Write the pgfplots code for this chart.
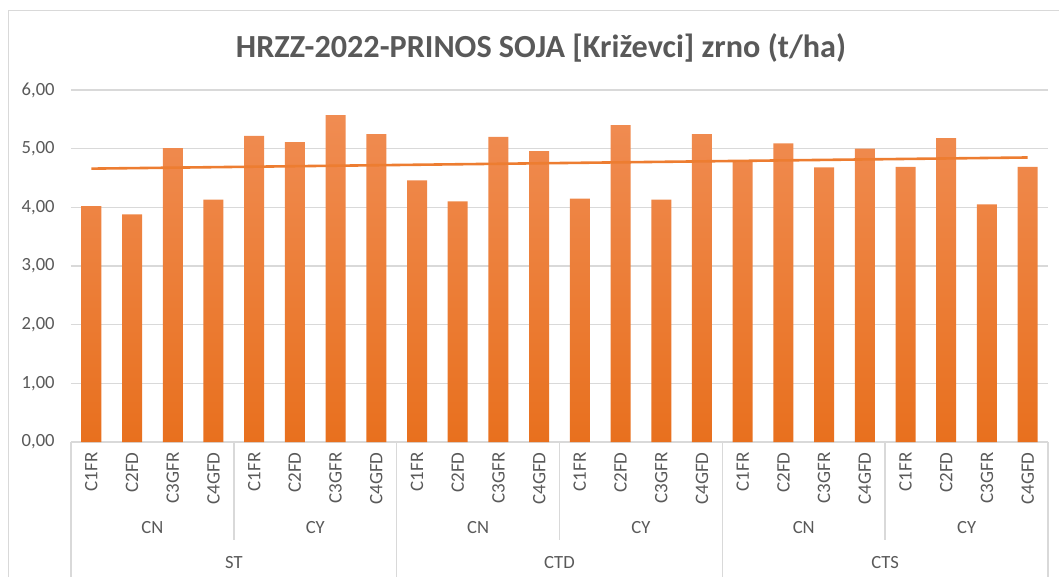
\documentclass[border=0pt]{standalone}
\usepackage{pgfplots}
\pgfplotsset{compat=1.18}
\usepackage{fontspec}
\setmainfont{Carlito}
\definecolor{txtgrey}{HTML}{595959}
\definecolor{gridgrey}{HTML}{D9D9D9}
\definecolor{bartop}{HTML}{F08C52}
\definecolor{barbot}{HTML}{E8701E}
\definecolor{trend}{HTML}{ED7D31}
\tikzset{catline/.style={gridgrey, line width=0.75pt},
  catlab/.style={font=\fontsize{9.3}{11}\selectfont, text=txtgrey}}
\begin{document}
\begin{tikzpicture}
\path[use as bounding box] (0,0) rectangle (529.5pt,-288.5pt);
\draw[gridgrey, line width=0.75pt] (4.25pt,-288.5pt) -- (4.25pt,-5.25pt) -- (529.5pt,-5.25pt);
\node[font=\fontsize{16.1}{19}\selectfont\bfseries, text=txtgrey, anchor=base] at (270.5pt,-29pt) {HRZZ-2022-PRINOS SOJA [Križevci] zrno (t/ha)};
\begin{axis}[
  at={(35.5pt,-221pt)}, anchor=south west,
  scale only axis, width=488.5pt, height=176pt,
  xmin=-0.5, xmax=23.5, ymin=0, ymax=6,
  ytick={0,1,...,6},
  xtick={0,...,23},
  xticklabels={C1FR,C2FD,C3GFR,C4GFD,C1FR,C2FD,C3GFR,C4GFD,C1FR,C2FD,C3GFR,C4GFD,C1FR,C2FD,C3GFR,C4GFD,C1FR,C2FD,C3GFR,C4GFD,C1FR,C2FD,C3GFR,C4GFD},
  axis x line*=bottom, axis y line*=left,
  y axis line style={draw=none},
  x axis line style={draw=gridgrey, line width=0.75pt},
  major tick length=0pt,
  ymajorgrids, major grid style={draw=gridgrey, line width=0.75pt},
  yticklabel style={font=\fontsize{9.3}{11}\selectfont, text=txtgrey, inner sep=0pt, xshift=-8pt},
  xticklabel style={font=\fontsize{9.5}{11}\selectfont, text=txtgrey, rotate=90, anchor=east, inner sep=5pt},
  /pgf/number format/.cd, fixed, fixed zerofill, precision=2, use comma, assume math mode=true,
  /pgfplots/.cd,
  clip=false,
]
\addplot[ybar, bar width=10pt, draw=none, top color=bartop, bottom color=barbot] coordinates {
(0,4.02) (1,3.88) (2,5.01) (3,4.13) (4,5.22) (5,5.11) (6,5.57) (7,5.25)
(8,4.46) (9,4.10) (10,5.20) (11,4.96) (12,4.15) (13,5.40) (14,4.13) (15,5.25)
(16,4.80) (17,5.09) (18,4.68) (19,5.00) (20,4.69) (21,5.18) (22,4.05) (23,4.69)
};
\addplot[sharp plot, no marks, trend, line width=1.3pt] coordinates {(0,4.66) (23,4.85)};
\draw[catline] (axis cs:-0.5,0) -- ([yshift=-67.5pt]axis cs:-0.5,0);
\draw[catline] (axis cs:7.5,0) -- ([yshift=-67.5pt]axis cs:7.5,0);
\draw[catline] (axis cs:15.5,0) -- ([yshift=-67.5pt]axis cs:15.5,0);
\draw[catline] (axis cs:23.5,0) -- ([yshift=-67.5pt]axis cs:23.5,0);
\draw[catline] (axis cs:3.5,0) -- ([yshift=-49pt]axis cs:3.5,0);
\draw[catline] (axis cs:11.5,0) -- ([yshift=-49pt]axis cs:11.5,0);
\draw[catline] (axis cs:19.5,0) -- ([yshift=-49pt]axis cs:19.5,0);
\node[catlab, yshift=-43pt] at (axis cs:1.5,0) {CN};
\node[catlab, yshift=-43pt] at (axis cs:5.5,0) {CY};
\node[catlab, yshift=-43pt] at (axis cs:9.5,0) {CN};
\node[catlab, yshift=-43pt] at (axis cs:13.5,0) {CY};
\node[catlab, yshift=-43pt] at (axis cs:17.5,0) {CN};
\node[catlab, yshift=-43pt] at (axis cs:21.5,0) {CY};
\node[catlab, yshift=-60.5pt] at (axis cs:3.5,0) {ST};
\node[catlab, yshift=-60.5pt] at (axis cs:11.5,0) {CTD};
\node[catlab, yshift=-60.5pt] at (axis cs:19.5,0) {CTS};
\end{axis}
\end{tikzpicture}
\end{document}
